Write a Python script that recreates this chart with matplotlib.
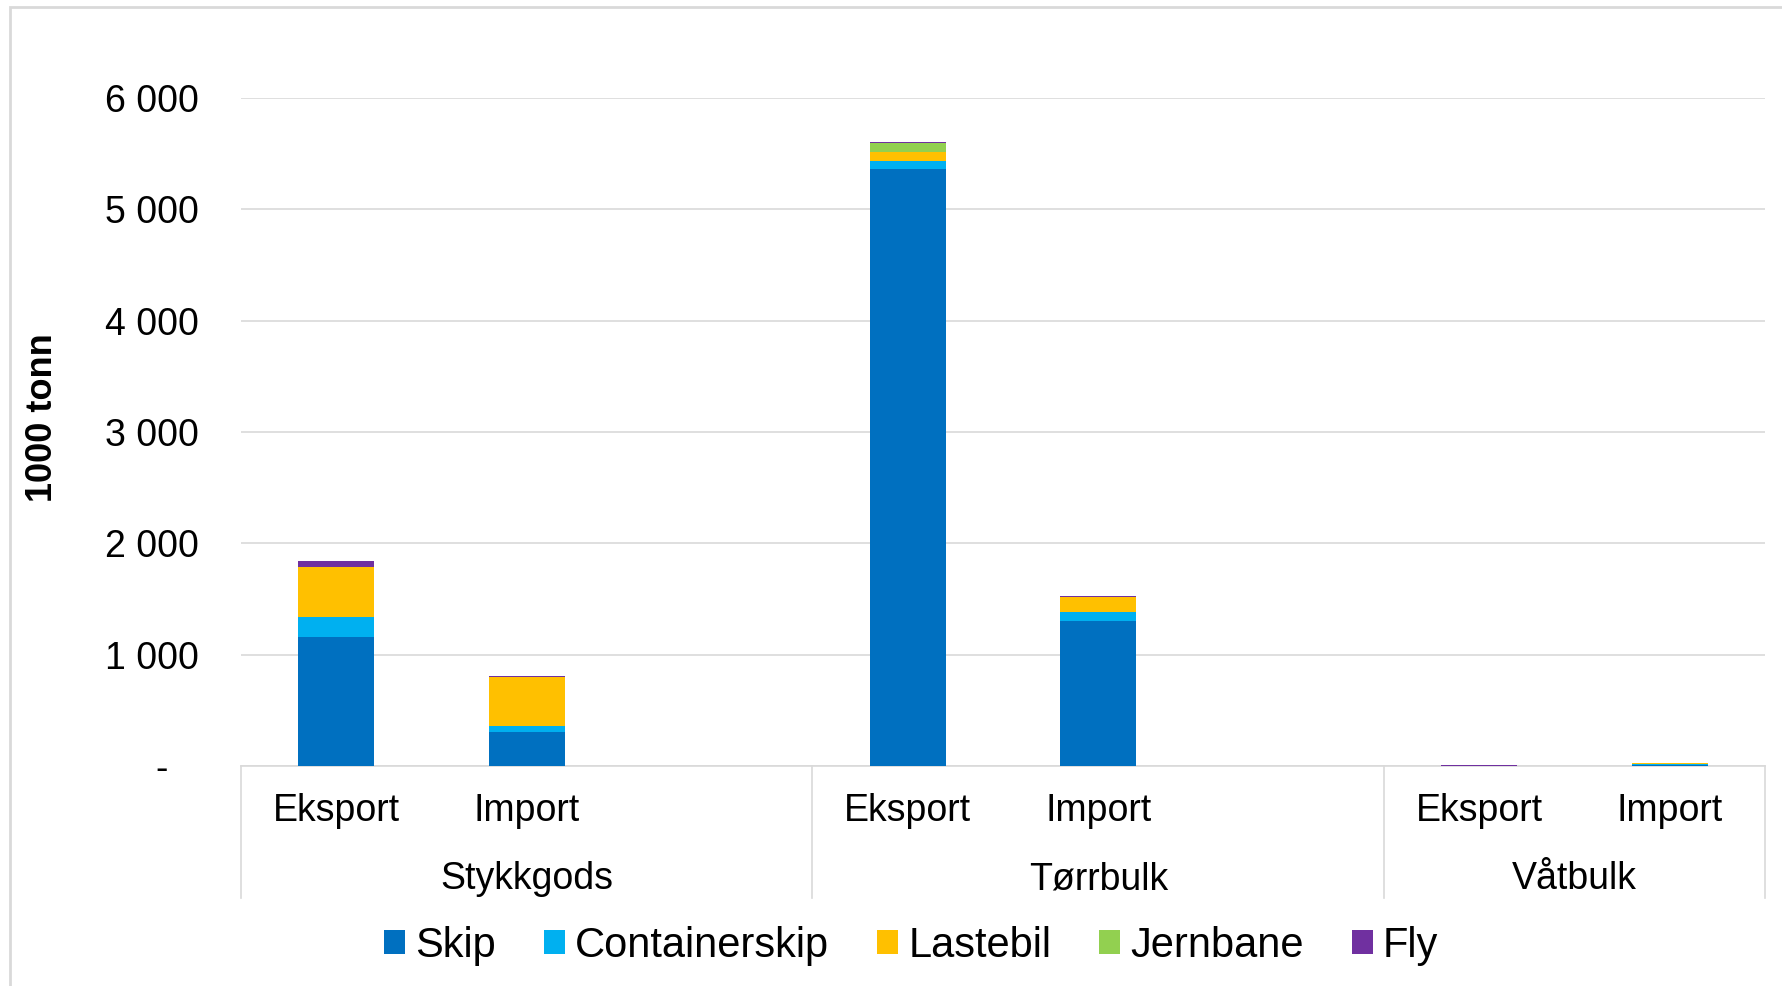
import numpy as np
import matplotlib.pyplot as plt
from matplotlib.ticker import FuncFormatter
from matplotlib.patches import Patch, Rectangle

plt.rcParams['font.family'] = ['Liberation Sans', 'DejaVu Sans']

# Kategorier (8 plasser, tom plass etter hver gruppe)
groups = ["Stykkgods", "Tørrbulk", "Våtbulk"]
subcats = ["Eksport", "Import"]
modes = ["Skip", "Containerskip", "Lastebil", "Jernbane", "Fly"]
colors = ["#0070C0", "#00B0F0", "#FFC000", "#92D050", "#7030A0"]

# verdier i 1000 tonn, rekkefølge: Stykk E, Stykk I, Tørr E, Tørr I, Våt E, Våt I
skip = [1162, 305, 5361, 1305, 3, 6]
containerskip = [174, 50, 69, 81, 0, 10]
lastebil = [449, 442, 83, 129, 0, 8]
jernbane = [0, 0, 81, 0, 0, 0]
fly = [60, 13, 12, 12, 10, 0]

series = [skip, containerskip, lastebil, jernbane, fly]
pos = np.array([0, 1, 3, 4, 6, 7])
group_centers = [1, 4, 6.5]

fig = plt.figure(figsize=(17.83, 9.86), dpi=100)
ax = fig.add_axes([241/1783, 1-766/986, (1765-241)/1783, (766-98)/986])

bottom = np.zeros(len(pos))
for vals, c, name in zip(series, colors, modes):
    ax.bar(pos, vals, width=0.40, bottom=bottom, color=c, label=name, zorder=3)
    bottom += np.array(vals)

ax.set_xlim(-0.5, 7.5)
ax.set_ylim(0, 6000)
ax.set_yticks(np.arange(0, 6001, 1000))
ax.yaxis.set_major_formatter(FuncFormatter(
    lambda v, p: "-   " if v == 0 else f"{int(v):,}".replace(",", " ")))
ax.tick_params(axis="y", length=0, pad=30, labelsize=27)
ax.set_xticks([])
ax.grid(axis="y", color="#d9d9d9", linewidth=1.2, zorder=0)
for s in ["top", "right", "left"]:
    ax.spines[s].set_visible(False)
ax.spines["bottom"].set_color("#d9d9d9")
ax.spines["bottom"].set_linewidth(1.2)

# kategoriakse med grupper
tr = ax.get_xaxis_transform()
for x in [-0.5, 2.5, 5.5, 7.5]:
    ax.plot([x, x], [0, -(898-766)/(766-98)], transform=tr, color="#d9d9d9",
            lw=1.2, clip_on=False)
for i, g in enumerate(groups):
    for j, s in enumerate(subcats):
        ax.text(i*3 + j, -(811-766)/(766-98), s, transform=tr, ha="center",
                va="center", fontsize=27)
    ax.text(group_centers[i], -(879-766)/(766-98), g, transform=tr, ha="center",
            va="center", fontsize=27)

fig.text(42/1783, 1-418/986, "1000 tonn", rotation=90, ha="center", va="center",
         fontsize=26, fontweight="bold")

handles = [Patch(facecolor=c, label=m) for c, m in zip(colors, modes)]
fig.legend(handles=handles, loc="center", bbox_to_anchor=(0.511, 1-946/986),
           ncol=5, frameon=False, fontsize=30, handlelength=0.5, handleheight=0.5,
           handletextpad=0.25, columnspacing=1.15)

# rammen rundt diagrammet
fig.patches.append(Rectangle((10/1783, -0.1), 1.2, 1.1-7/986, transform=fig.transFigure,
                             fill=False, edgecolor="#d9d9d9", lw=2))

plt.savefig("out.png", dpi=100)
